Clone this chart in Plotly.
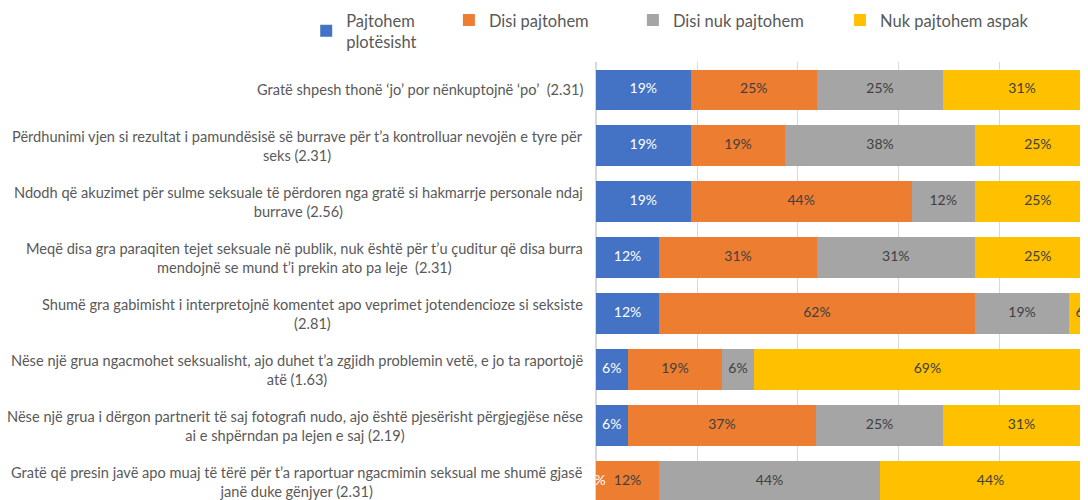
import plotly.graph_objects as go

# statement labels (wrapped like the original) and the four answer shares in %
statements = [
    "Gratë shpesh thonë ‘jo’ por nënkuptojnë ‘po’  (2.31)",
    "Përdhunimi vjen si rezultat i pamundësisë së burrave për t’a kontrolluar nevojën e tyre për<br>seks (2.31)",
    "Ndodh që akuzimet për sulme seksuale të përdoren nga gratë si hakmarrje personale ndaj<br>burrave (2.56)",
    "Meqë disa gra paraqiten tejet seksuale në publik, nuk është për t’u çuditur që disa burra<br>mendojnë se mund t’i prekin ato pa leje  (2.31)",
    "Shumë gra gabimisht i interpretojnë komentet apo veprimet jotendencioze si seksiste<br>(2.81)",
    "Nëse një grua ngacmohet seksualisht, ajo duhet t’a zgjidh problemin vetë, e jo ta raportojë<br>atë (1.63)",
    "Nëse një grua i dërgon partnerit të saj fotografi nudo, ajo është pjesërisht përgjegjëse nëse<br>ai e shpërndan pa lejen e saj (2.19)",
    "Gratë që presin javë apo muaj të tërë për t’a raportuar ngacmimin seksual me shumë gjasë<br>janë duke gënjyer (2.31)",
]
series_names = ["Pajtohem<br>plotësisht", "Disi pajtohem", "Disi nuk pajtohem", "Nuk pajtohem aspak"]
pajtohem_plotesisht = [18.75, 18.75, 18.75, 12.5, 12.5, 6.25, 6.25, 0.0]
disi_pajtohem = [25.0, 18.75, 43.75, 31.25, 62.5, 18.75, 37.4, 12.5]
disi_nuk_pajtohem = [25.0, 37.5, 12.5, 31.25, 18.75, 6.25, 25.0, 43.75]
nuk_pajtohem_aspak = [31.25, 25.0, 25.0, 25.0, 6.25, 68.75, 31.25, 43.75]

colors = ["#4472C4", "#ED7D31", "#A5A5A5", "#FFC000"]
text_colors = ["white", "#404040", "#404040", "#404040"]
legend_ids = ["legend", "legend2", "legend3", "legend4"]
legend_x = [-0.589, -0.299, 0.075, 0.496]
FONT = "Lato"

rows = list(range(len(statements)))
all_series = [pajtohem_plotesisht, disi_pajtohem, disi_nuk_pajtohem, nuk_pajtohem_aspak]

fig = go.Figure()
for name, vals, col, lg in zip(series_names, all_series, colors, legend_ids):
    fig.add_trace(go.Bar(y=rows, x=vals, name=name, orientation="h", legend=lg,
                         marker=dict(color=col, line=dict(width=0)), width=0.73))

# value labels centred on each segment (as text so they clip at the plot edge)
base = [0.0] * len(rows)
for vals, tcol in zip(all_series, text_colors):
    centers = [b + v / 2 for b, v in zip(base, vals)]
    fig.add_trace(go.Scatter(y=rows, x=centers, mode="text", text=[f"{v:.0f}%" for v in vals],
                             textfont=dict(color=tcol, size=14, family=FONT),
                             showlegend=False, hoverinfo="skip", cliponaxis=True))
    base = [b + v for b, v in zip(base, vals)]

for r, s in zip(rows, statements):
    fig.add_annotation(x=0, xref="paper", y=r, yref="y", text=s, showarrow=False,
                       xanchor="right", xshift=-11, align="center",
                       font=dict(size=14.6, color="#595959", family=FONT))

legend_style = dict(orientation="h", y=1.135, xanchor="left", yanchor="top",
                    bgcolor="rgba(0,0,0,0)",
                    font=dict(size=16.5, color="#595959", family=FONT))
layout_legends = {lg: dict(x=lx, **legend_style) for lg, lx in zip(legend_ids, legend_x)}

fig.update_layout(
    width=1080, height=492,
    margin=dict(l=588, r=0, t=54, b=0, autoexpand=False),
    barmode="stack",
    plot_bgcolor="white", paper_bgcolor="white",
    font=dict(family=FONT, size=14, color="#595959"),
    xaxis=dict(range=[0, 97.43], showgrid=True, dtick=20, gridcolor="#D9D9D9",
               zeroline=True, zerolinecolor="#D9D9D9", showticklabels=False, fixedrange=True),
    yaxis=dict(range=[7.33, -0.5], showgrid=False, zeroline=False, showticklabels=False),
    **layout_legends,
)

fig.write_html("out.html")
